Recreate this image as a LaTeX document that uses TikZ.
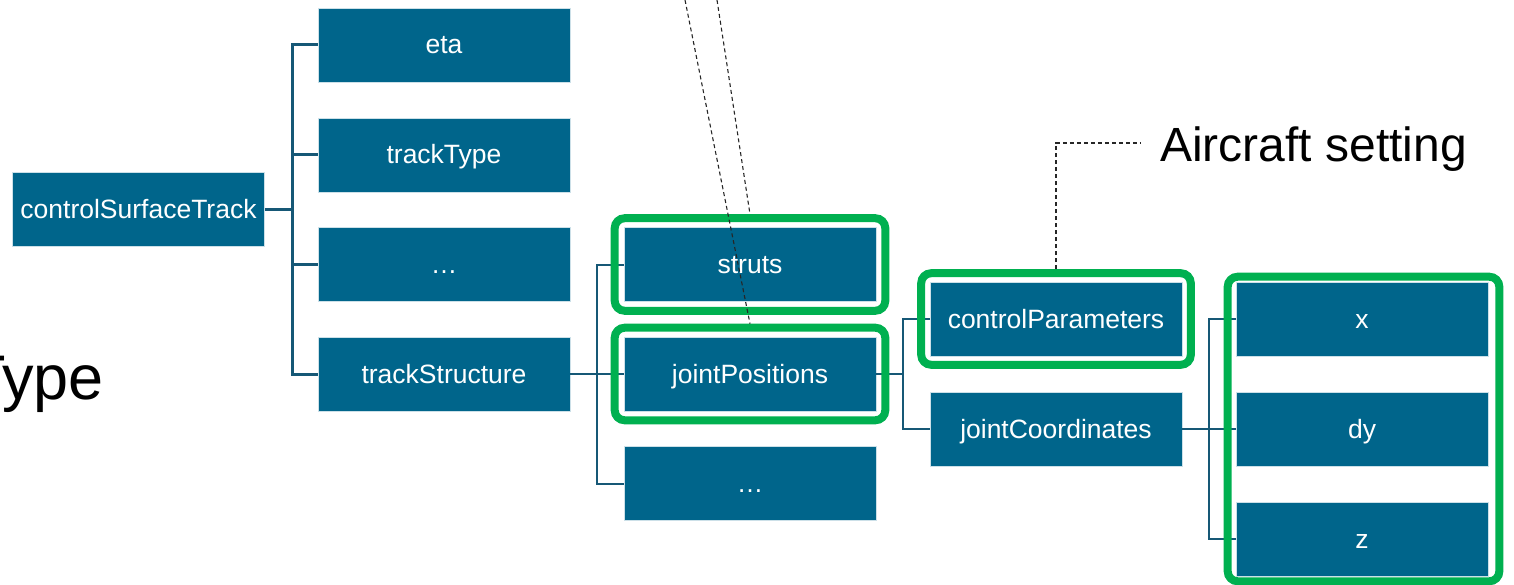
\documentclass[tikz,border=0pt]{standalone}
\usepackage{fontspec}
\setmainfont{Liberation Sans}
\usetikzlibrary{fit,calc}
\definecolor{boxblue}{RGB}{0,101,139}
\definecolor{linkblue}{RGB}{22,88,118}
\definecolor{framegreen}{RGB}{0,176,80}
\tikzset{
  leaf/.style={rectangle, fill=boxblue, draw=white!80!boxblue, line width=0.6pt,
    text=white, minimum width=252pt, minimum height=74pt, inner sep=0pt,
    text height=24pt, text depth=6pt,
    font=\fontsize{26.5}{30}\selectfont},
  link/.style={draw=linkblue, line width=2pt},
  linkbold/.style={draw=linkblue, line width=3pt},
  frame/.style={draw=framegreen, line width=8pt, rounded corners=10pt,
    rectangle, inner sep=9pt},
  callout/.style={draw=black!85, line width=1.1pt, dash pattern=on 4pt off 3pt},
  bigtext/.style={text=black, inner sep=0pt}
}
\begin{document}
\begin{tikzpicture}[x=1pt,y=-1pt]
\clip (0,0) rectangle (1514,585);
\useasboundingbox (0,0) rectangle (1514,585);

% first level
\node[leaf] (cst) at (138.5,209.5) {controlSurfaceTrack};
\node[leaf] (eta) at (444,45) {eta};
\node[leaf] (ttype) at (444,155) {trackType};
\node[leaf] (more1) at (444,264.5) {…};
\node[leaf] (tstruct) at (444,374) {trackStructure};

% second level
\node[leaf] (struts) at (750,264.5) {struts};
\node[leaf] (jpos) at (750,374) {jointPositions};
\node[leaf] (more2) at (750,483.5) {…};

% third level
\node[leaf] (cpar) at (1056,319) {controlParameters};
\node[leaf] (jcoord) at (1056,429) {jointCoordinates};

% fourth level
\node[leaf] (cx) at (1362,319) {x};
\node[leaf] (cdy) at (1362,429) {dy};
\node[leaf] (cz) at (1362,539) {z};

% tree connectors
\coordinate (b1) at (292,209.5);
\draw[linkbold] (cst.east) -- (b1);
\draw[linkbold] (b1) |- (eta.west);
\draw[linkbold] (b1) |- (ttype.west);
\draw[linkbold] (b1) |- (more1.west);
\draw[linkbold] (b1) |- (tstruct.west);

\coordinate (b2) at (597,374);
\draw[link] (tstruct.east) -- (b2);
\draw[link] (b2) |- (struts.west);
\draw[link] (b2) |- (jpos.west);
\draw[link] (b2) |- (more2.west);

\coordinate (b3) at (903,374);
\draw[link] (jpos.east) -- (b3);
\draw[link] (b3) |- (cpar.west);
\draw[link] (b3) |- (jcoord.west);

\coordinate (b4) at (1209,429);
\draw[link] (jcoord.east) -- (b4);
\draw[link] (b4) |- (cx.west);
\draw[link] (b4) |- (cdy.west);
\draw[link] (b4) |- (cz.west);

% highlight frames
\node[frame, fit=(struts)] (fstruts) {};
\node[frame, fit=(jpos)] (fjpos) {};
\node[frame, inner sep=8.5pt, fit=(cpar)] (fcpar) {};
\draw[draw=framegreen, line width=8pt, rounded corners=10pt]
  ($(cx.north west)+(-8,-5)$) rectangle ($(cz.south east)+(11,5)$);

% callout lines
\coordinate (top1) at (685,0);
\coordinate (top2) at (717,0);
\draw[callout] (top1) -- (fjpos.north);
\draw[callout] (top2) -- (fstruts.north);

\node[bigtext, anchor=base west, font=\fontsize{48}{52}\selectfont] (acset) at (1160,162) {Aircraft setting};
\coordinate (acend) at (1140,143);
\draw[callout] (fcpar.north) |- (acend);

\node[bigtext, anchor=base east, font=\fontsize{63}{66}\selectfont] (typelbl) at (104,399) {Type};
\end{tikzpicture}
\end{document}
